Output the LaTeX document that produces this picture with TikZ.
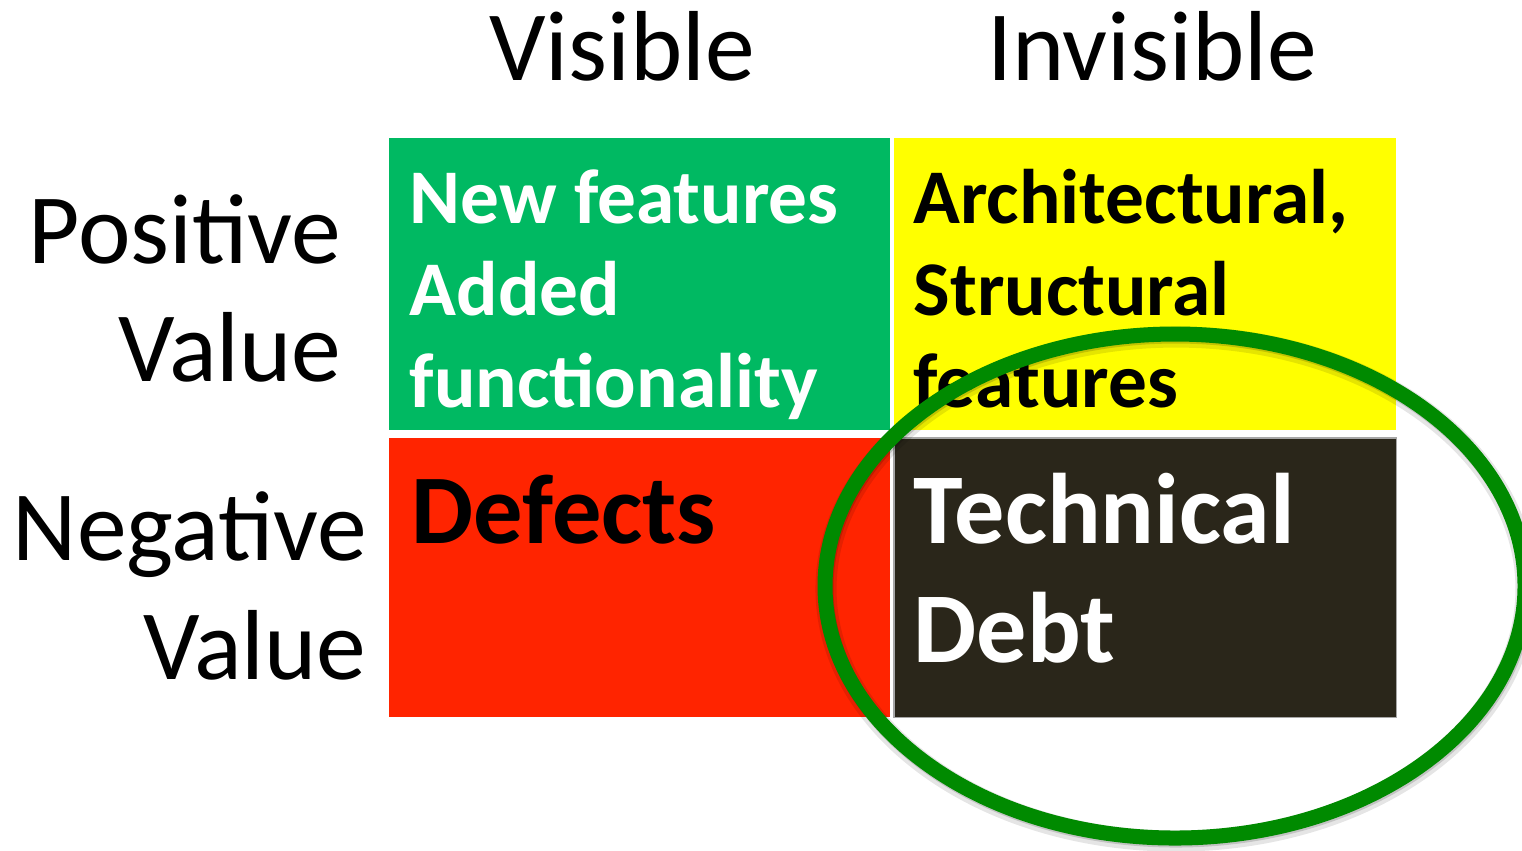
\documentclass[tikz,border=0pt]{standalone}
\usepackage{fontspec}
\setmainfont{Carlito}
\definecolor{cellgreen}{RGB}{0,185,98}
\definecolor{cellyellow}{RGB}{255,255,0}
\definecolor{cellred}{RGB}{255,36,0}
\definecolor{celldark}{RGB}{42,38,26}
\definecolor{ringgreen}{RGB}{0,138,0}
\begin{document}
\begin{tikzpicture}[x=0.01cm,y=-0.01cm,
  head/.style={anchor=base,inner sep=0,font=\fontsize{28.3pt}{34pt}\selectfont},
  rowlab/.style={anchor=base east,inner sep=0,font=\fontsize{28.3pt}{34pt}\selectfont},
  small/.style={anchor=base west,inner sep=0,font=\fontsize{22pt}{26pt}\selectfont\bfseries},
  large/.style={anchor=base west,inner sep=0,font=\fontsize{28.5pt}{34pt}\selectfont\bfseries},
  ring/.style={line width=4.27pt}]
\useasboundingbox (0,0) rectangle (1522,850);

% quadrants
\fill[cellgreen]  (389,138) rectangle (890,430);
\fill[cellyellow] (894,138) rectangle (1396,430);
\fill[cellred]    (389,438) rectangle (890,717);
\fill[celldark]   (894,438) rectangle (1396,717);
\draw[gray!70,line width=0.3pt] (894,438) rectangle (1396,717);

% column headings
\node[head] (vis) at (622,80) {Visible};
\node[head] (invis) at (1152,80) {Invisible};

% row headings
\node[rowlab] (pos1) at (342,263) {Positive};
\node[rowlab] (pos2) at (342,381) {Value};
\node[rowlab] (neg1) at (368,560) {Negative};
\node[rowlab] (neg2) at (367,679) {Value};

% green quadrant
\node[small,text=white] (g1) at (409,223) {New features};
\node[small,text=white] (g2) at (409,315) {Added};
\node[small,text=white] (g3) at (409,407) {functionality};

% yellow quadrant
\node[small] (y1) at (913,223) {Architectural,};
\node[small] (y2) at (913,315) {Structural};
\node[small] (y3) at (913,407) {features};

% red quadrant
\node[large,font=\fontsize{28pt}{34pt}\selectfont\bfseries] (r1) at (411,543) {Defects};

% dark quadrant
\node[large,text=white] (d1) at (913,543) {Technical};
\node[large,text=white] (d2) at (913,662) {Debt};

% ring round the invisible half, with a soft shadow
\draw[ring,black,opacity=0.10,line width=6pt] (1176,589) ellipse [x radius=350,y radius=252];
\draw[ring,black,opacity=0.15] (1176,588) ellipse [x radius=350,y radius=252];
\draw[ring,ringgreen] (1175,586) ellipse [x radius=350,y radius=252];
\end{tikzpicture}
\end{document}
